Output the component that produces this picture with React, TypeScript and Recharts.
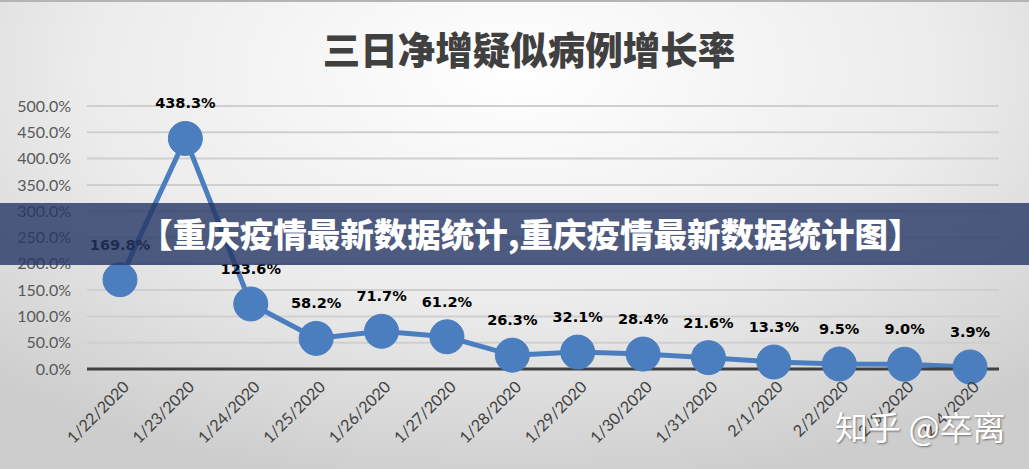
import React from "react";
import {
  LineChart,
  Line,
  XAxis,
  YAxis,
  CartesianGrid,
  LabelList,
} from "recharts";

const DATES = [
  "1/22/2020",
  "1/23/2020",
  "1/24/2020",
  "1/25/2020",
  "1/26/2020",
  "1/27/2020",
  "1/28/2020",
  "1/29/2020",
  "1/30/2020",
  "1/31/2020",
  "2/1/2020",
  "2/2/2020",
  "2/3/2020",
  "2/4/2020",
];

const GROWTH = [169.8, 438.3, 123.6, 58.2, 71.7, 61.2, 26.3, 32.1, 28.4, 21.6, 13.3, 9.5, 9.0, 3.9];

const Y_TICKS = [0, 50, 100, 150, 200, 250, 300, 350, 400, 450, 500];

const TITLE = "三日净增疑似病例增长率";
const BANNER = "【重庆疫情最新数据统计,重庆疫情最新数据统计图】";
const WATERMARK = "知乎 @卒离";

const data = DATES.map((d, i) => ({ date: d, value: GROWTH[i] }));

const LINE_COLOR = "#4a7ebf";
const pct = (v: number) => `${v.toFixed(1)}%`;

function DateTick({ x, y, payload }: any) {
  return (
    <g transform={`translate(${x + 2},${y + 3})`}>
      <text
        transform="rotate(-45)"
        textAnchor="end"
        dy="0.71em"
        fontSize={16}
        fontFamily="Lato, sans-serif"
        fill="#404040"
      >
        {payload.value}
      </text>
    </g>
  );
}

export default function App() {
  return (
    <div
      style={{
        position: "absolute",
        left: 0,
        top: 0,
        width: 1029,
        height: 469,
        overflow: "hidden",
        background:
          "radial-gradient(ellipse 75% 90% at 50% 15%, #ffffff 0%, #ececec 55%, #cdcdcd 100%)",
      }}
    >
      <div style={{ position: "absolute", left: 0, top: 0, width: 1029, height: 2, background: "#b4b4b4" }} />
      <div
        style={{
          position: "absolute",
          left: 0,
          top: 23,
          width: 1058,
          textAlign: "center",
          fontFamily: "'Noto Sans CJK SC', sans-serif",
          fontWeight: 900,
          fontSize: 37.5,
          color: "#404040",
          lineHeight: "50px",
        }}
      >
        {TITLE}
      </div>
      <LineChart
        width={1029}
        height={469}
        data={data}
        margin={{ top: 106, right: 30, bottom: 0, left: 0 }}
        style={{ position: "absolute", left: 0, top: 0 }}
      >
        <CartesianGrid vertical={false} stroke="#cfcfcf" strokeWidth={2} />
        <XAxis
          dataKey="date"
          interval={0}
          padding={{ left: 33, right: 29 }}
          height={100}
          axisLine={{ stroke: "#404040", strokeWidth: 3 }}
          tickLine={false}
          tick={<DateTick />}
        />
        <YAxis
          width={87}
          domain={[0, 500]}
          ticks={Y_TICKS}
          tickFormatter={pct}
          axisLine={false}
          tickLine={false}
          tickSize={0}
          tickMargin={16}
          tick={{ fontSize: 16, fill: "#595959", fontFamily: "Lato, sans-serif" }}
        />
        <Line
          dataKey="value"
          stroke={LINE_COLOR}
          strokeWidth={5}
          dot={{ r: 17, fill: LINE_COLOR, stroke: LINE_COLOR, strokeWidth: 1 }}
          activeDot={false}
          isAnimationActive={false}
        >
          <LabelList
            dataKey="value"
            position="top"
            offset={30}
            formatter={(v: any) => pct(Number(v))}
            style={{
              fontSize: 14.5,
              fontWeight: 700,
              fill: "#000000",
              fontFamily: "'DejaVu Sans', sans-serif",
            }}
          />
        </Line>
      </LineChart>
      <div
        style={{
          position: "absolute",
          left: 0,
          top: 203,
          width: 1029,
          height: 62,
          background: "rgba(38,54,100,0.8)",
          color: "#ffffff",
          fontFamily: "'Noto Sans CJK SC', sans-serif",
          fontWeight: 900,
          fontSize: 33.5,
          lineHeight: "60px",
          textAlign: "center",
          whiteSpace: "nowrap",
        }}
      >
        <span style={{ position: "relative", left: 16 }}>{BANNER}</span>
      </div>
      <div
        style={{
          position: "absolute",
          left: 835,
          top: 404,
          fontFamily: "'Noto Sans CJK SC', sans-serif",
          fontSize: 33,
          color: "#ffffff",
          textShadow: "1px 1px 2px rgba(0,0,0,0.45)",
          whiteSpace: "nowrap",
          lineHeight: "44px",
        }}
      >
        {WATERMARK}
      </div>
    </div>
  );
}
